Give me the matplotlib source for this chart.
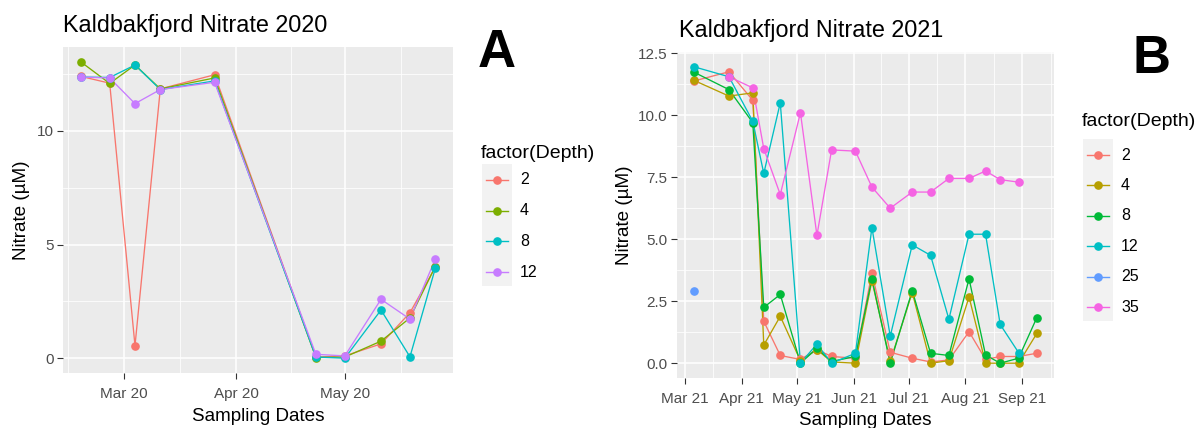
import numpy as np
import matplotlib
matplotlib.use('Agg')
import matplotlib.pyplot as plt
import matplotlib.dates as mdates
from matplotlib.lines import Line2D
from matplotlib.patches import Rectangle
from matplotlib.ticker import FixedLocator, FormatStrFormatter

plt.rcParams['font.family'] = ['Liberation Sans', 'DejaVu Sans']

nan = np.nan

# ---------------- data: 2020 ----------------
dates_2020 = ['2020-02-18', '2020-02-26', '2020-03-04', '2020-03-11', '2020-03-26',
              '2020-04-23', '2020-05-01', '2020-05-11', '2020-05-19', '2020-05-26']
depths_2020 = ['2', '4', '8', '12']
n2020_d2 = [12.40, 12.10, 0.55, 11.85, 12.47, 0.05, 0.10, 0.63, 2.00, 4.00]
n2020_d4 = [13.04, 12.09, 12.90, 11.85, 12.33, 0.03, 0.05, 0.75, 1.77, 4.03]
n2020_d8 = [12.37, 12.35, 12.90, 11.82, 12.20, 0.05, 0.00, 2.12, 0.06, 3.95]
n2020_d12 = [12.37, 12.33, 11.20, 11.82, 12.14, 0.17, 0.10, 2.59, 1.72, 4.36]
colors_2020 = ['#F8766D', '#7CAE00', '#00BFC4', '#C77CFF']
ticks_2020 = ['2020-03-01', '2020-04-01', '2020-05-01']
yticks_2020 = [0, 5, 10]

# ---------------- data: 2021 ----------------
dates_2021 = ['2021-03-06', '2021-03-25', '2021-04-07', '2021-04-13', '2021-04-22',
              '2021-05-03', '2021-05-12', '2021-05-20', '2021-06-02', '2021-06-11',
              '2021-06-21', '2021-07-03', '2021-07-13', '2021-07-23', '2021-08-03',
              '2021-08-12', '2021-08-20', '2021-08-30', '2021-09-09']
depths_2021 = ['2', '4', '8', '12', '25', '35']
n2021_d2 = [11.38, 11.75, 10.60, 1.69, 0.31, 0.15, 0.55, 0.27, 0.20, 3.64,
            0.44, 0.20, 0.05, 0.13, 1.27, 0.15, 0.27, 0.27, 0.40]
n2021_d4 = [11.40, 10.77, 10.90, 0.73, 1.89, 0.10, 0.55, 0.05, 0.00, 3.33,
            0.07, 2.85, 0.00, 0.10, 2.67, 0.00, 0.00, 0.00, 1.20]
n2021_d8 = [11.73, 11.03, 9.70, 2.25, 2.77, 0.00, 0.60, 0.07, 0.27, 3.40,
            0.00, 2.93, 0.40, 0.31, 3.40, 0.33, 0.00, 0.20, 1.84]
n2021_d12 = [11.95, 11.55, 9.75, 7.65, 10.50, 0.00, 0.77, 0.00, 0.40, 5.47,
             1.09, 4.77, 4.35, 1.77, 5.20, 5.20, 1.56, 0.43, nan]
n2021_d25 = [2.93, nan, nan, nan, nan, nan, nan, nan, nan, nan,
             nan, nan, nan, nan, nan, nan, nan, nan, nan]
n2021_d35 = [nan, 11.55, 11.10, 8.65, 6.80, 10.10, 5.15, 8.60, 8.55, 7.10,
             6.25, 6.90, 6.90, 7.45, 7.45, 7.75, 7.40, 7.30, nan]
colors_2021 = ['#F8766D', '#B79F00', '#00BA38', '#00BFC4', '#619CFF', '#F564E3']
ticks_2021 = ['2021-03-01', '2021-04-01', '2021-05-01', '2021-06-01',
              '2021-07-01', '2021-08-01', '2021-09-01']
yticks_2021 = [0.0, 2.5, 5.0, 7.5, 10.0, 12.5]

W, H = 1204, 428
fig = plt.figure(figsize=(W / 100, H / 100), dpi=100)
fig.patch.set_facecolor('white')


def fx(x):
    return x / W


def fy(y):
    return 1 - y / H


def to_dates(lst):
    return np.array([np.datetime64(d) for d in lst]).astype('datetime64[D]').astype(object)


def style_axes(ax, dates, series, colors, ticks, yticks, yfmt):
    ax.set_facecolor('#EBEBEB')
    for s in ax.spines.values():
        s.set_visible(False)
    d = to_dates(dates)
    dn = mdates.date2num(d)
    for vals, c in zip(series, colors):
        v = np.array(vals, dtype=float)
        ax.plot(d, v, color=c, lw=0.95, zorder=3, solid_capstyle='butt')
    for vals, c in zip(series, colors):
        v = np.array(vals, dtype=float)
        ax.plot(d, v, ls='none', marker='o', ms=5.2, color=c, mec=c, zorder=4)
    allv = np.concatenate([np.array(s, dtype=float) for s in series])
    lo, hi = np.nanmin(allv), np.nanmax(allv)
    pad = (hi - lo) * 0.05
    ax.set_ylim(lo - pad, hi + pad)
    xpad = (dn.max() - dn.min()) * 0.05
    ax.set_xlim(dn.min() - xpad, dn.max() + xpad)
    tk = mdates.date2num(to_dates(ticks))
    ax.xaxis.set_major_locator(FixedLocator(tk))
    ax.xaxis.set_major_formatter(mdates.DateFormatter('%b %y'))
    step = tk[1] - tk[0]
    ext = np.concatenate([[tk[0] - step], tk, [tk[-1] + step]])
    minors = (ext[:-1] + ext[1:]) / 2
    ax.xaxis.set_minor_locator(FixedLocator(minors))
    ax.yaxis.set_major_locator(FixedLocator(yticks))
    ys = yticks[1] - yticks[0]
    ymin = [y + ys / 2 for y in [yticks[0] - ys] + list(yticks)]
    ax.yaxis.set_minor_locator(FixedLocator(ymin))
    ax.yaxis.set_major_formatter(FormatStrFormatter(yfmt))
    ax.grid(which='major', color='white', lw=1.1, zorder=1)
    ax.grid(which='minor', color='white', lw=0.55, zorder=1)
    ax.set_axisbelow(True)
    ax.tick_params(which='major', length=4.2, width=0.8, color='#333333',
                   labelcolor='#4D4D4D', labelsize=11)
    ax.tick_params(axis='x', which='major', pad=6)
    ax.tick_params(axis='y', which='major', pad=2.5)
    ax.tick_params(which='minor', length=0)


def legend(x0, ytitle, yfirst, dy, labels, colors):
    fig.text(fx(x0), fy(ytitle), 'factor(Depth)', fontsize=14, ha='left', va='center',
             color='black')
    kx0, kw = x0 + 1, 30
    top = yfirst - dy / 2 - 1
    fig.add_artist(Rectangle((fx(kx0), fy(top + dy * len(labels))), kw / W,
                             dy * len(labels) / H, transform=fig.transFigure,
                             facecolor='#F2F2F2', edgecolor='none'))
    for i, (lab, c) in enumerate(zip(labels, colors)):
        yy = yfirst + i * dy
        fig.add_artist(Line2D([fx(kx0 + 4), fx(kx0 + kw - 4)], [fy(yy), fy(yy)],
                              transform=fig.transFigure, color=c, lw=1.0))
        fig.add_artist(Line2D([fx(kx0 + kw / 2)], [fy(yy)], transform=fig.transFigure,
                              marker='o', ms=5.2, color=c, ls='none'))
        fig.text(fx(kx0 + kw + 8), fy(yy), lab, fontsize=11.5, ha='left', va='center',
                 color='black')


# ---------------- panel A ----------------
axA = fig.add_axes([fx(63), fy(373), (453 - 63) / W, (373 - 47) / H])
style_axes(axA, dates_2020, [n2020_d2, n2020_d4, n2020_d8, n2020_d12], colors_2020,
           ticks_2020, yticks_2020, '%d')
fig.text(fx(63), fy(32), 'Kaldbakfjord Nitrate 2020', fontsize=16.8, ha='left',
         va='baseline')
axA.set_xlabel('Sampling Dates', fontsize=13.6, labelpad=5)
axA.set_ylabel('Nitrate (\u00b5M)', fontsize=13.6, labelpad=5)
fig.text(fx(497), fy(53), 'A', fontsize=38, fontweight='bold', ha='center', va='center')
legend(481, 153, 180, 30.7, depths_2020, colors_2020)

# ---------------- panel B ----------------
axB = fig.add_axes([fx(677), fy(378), (1054 - 677) / W, (378 - 52) / H])
style_axes(axB, dates_2021, [n2021_d2, n2021_d4, n2021_d8, n2021_d12, n2021_d25, n2021_d35],
           colors_2021, ticks_2021, yticks_2021, '%.1f')
fig.text(fx(679), fy(37), 'Kaldbakfjord Nitrate 2021', fontsize=16.8, ha='left',
         va='baseline')
axB.set_xlabel('Sampling Dates', fontsize=13.6, labelpad=4)
axB.set_ylabel('Nitrate (\u00b5M)', fontsize=13.6, labelpad=4)
fig.text(fx(1152), fy(59), 'B', fontsize=38, fontweight='bold', ha='center', va='center')
legend(1082, 122, 155, 30.4, depths_2021, colors_2021)

fig.savefig('out.png', dpi=100, facecolor='white')
